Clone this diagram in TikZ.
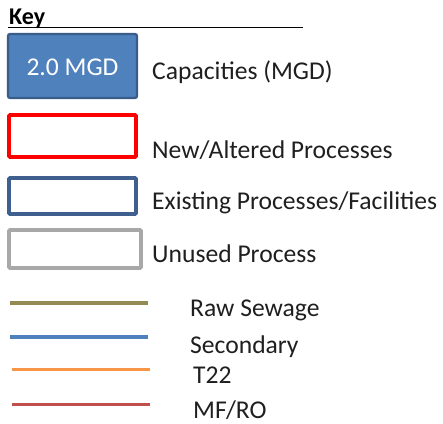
\documentclass[tikz,border=0pt]{standalone}
\usepackage{fontspec}
\setmainfont{Carlito}
\definecolor{capfill}{HTML}{4F81BD}
\definecolor{capdraw}{HTML}{385D8A}
\definecolor{newred}{HTML}{FF0000}
\definecolor{existblue}{HTML}{3F5F8F}
\definecolor{unusedgray}{HTML}{A8A8A8}
\definecolor{rawcol}{HTML}{948A54}
\definecolor{seccol}{HTML}{4F81BD}
\definecolor{tcol}{HTML}{F79646}
\definecolor{mfcol}{HTML}{C0504D}
\begin{document}
\begin{tikzpicture}[x=1pt,y=-1pt,
  keytext/.style={anchor=base west,inner sep=0pt,font=\fontsize{25.6}{30}\selectfont,text=black!88},
  keybox/.style={line width=3.6pt,rounded corners=1pt},
  keyline/.style={line width=3.6pt}]
\useasboundingbox[fill=white] (0,0) rectangle (443,423);
% title
\node[anchor=base west,inner sep=0pt,font=\fontsize{24}{28}\selectfont\bfseries] (key) at (9,24) {Key};
\coordinate (ulA) at (8,27.5);
\coordinate (ulB) at (303,27.5);
\draw[line width=1.9pt] (ulA) -- (ulB);
% capacity box
\draw[fill=capfill,draw=capdraw,line width=2.2pt,rounded corners=2pt] (8,34) rectangle (137,98);
\node[anchor=base,inner sep=0pt,font=\fontsize{25.6}{30}\selectfont,text=white] (cap) at (72.5,75) {2.0 MGD};
\node[keytext] (captxt) at (152,79) {Capacities (MGD)};
% new/altered
\draw[keybox,draw=newred] (9,115) rectangle (136,157);
\node[keytext] (newtxt) at (152,158) {New/Altered Processes};
% existing
\draw[keybox,draw=existblue] (9,178) rectangle (136,214);
\node[keytext] (exttxt) at (152,209) {Existing Processes/Facilities};
% unused
\draw[keybox,draw=unusedgray] (9,230) rectangle (141,268);
\node[keytext] (unutxt) at (152,262) {Unused Process};
% lines
\coordinate (rawA) at (10,302.7); \coordinate (rawB) at (148,302.7);
\draw[keyline,draw=rawcol] (rawA) -- (rawB);
\node[keytext] (rawtxt) at (190,316) {Raw Sewage};
\coordinate (secA) at (10,336.7); \coordinate (secB) at (148,336.7);
\draw[keyline,draw=seccol] (secA) -- (secB);
\node[keytext] (sectxt) at (190,353) {Secondary};
\coordinate (tA) at (12,369.3); \coordinate (tB) at (150,369.3);
\draw[keyline,draw=tcol] (tA) -- (tB);
\node[keytext] (ttxt) at (193,383) {T22};
\coordinate (mA) at (12,404.3); \coordinate (mB) at (150,404.3);
\draw[keyline,draw=mfcol] (mA) -- (mB);
\node[keytext] (mtxt) at (193,418) {MF/RO};
\end{tikzpicture}
\end{document}
